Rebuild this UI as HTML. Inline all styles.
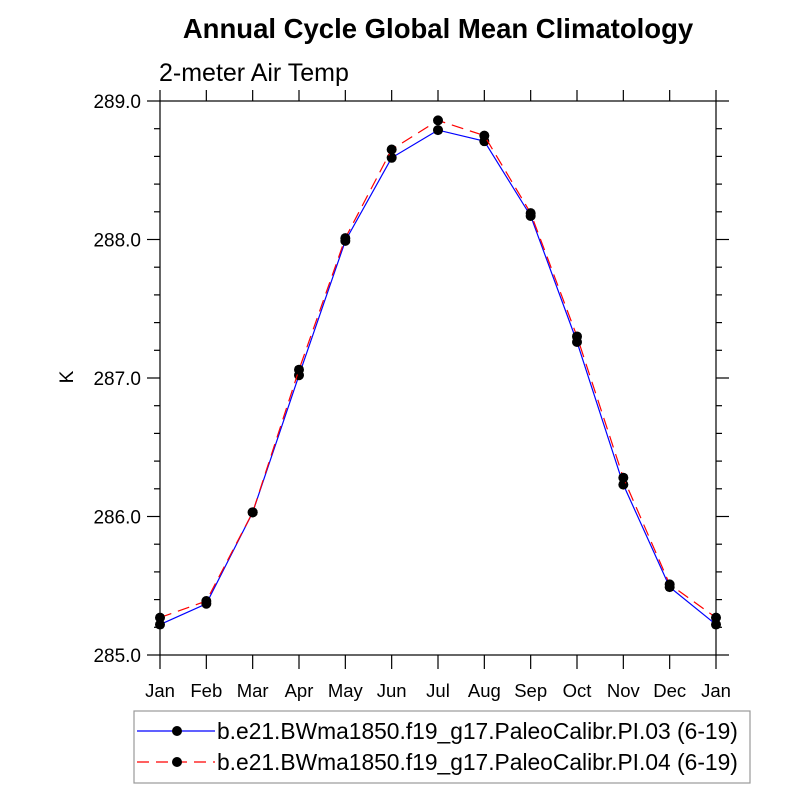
<!DOCTYPE html>
<html><head><meta charset="utf-8"><style>
body{margin:0;background:#fff;}
svg text{font-family:"Liberation Sans",sans-serif;fill:#000;}
</style></head><body>
<svg id="chart" width="800" height="800" viewBox="0 0 800 800">
<text x="438" y="38" text-anchor="middle" font-size="27.5" font-weight="bold">Annual Cycle Global Mean Climatology</text>
<text x="159" y="81" font-size="25">2-meter Air Temp</text>
<text transform="translate(73,377) rotate(-90)" text-anchor="middle" font-size="19">K</text>
<rect x="160" y="101" width="556" height="554" fill="none" stroke="#000" stroke-width="1.2"/>
<g id="axes"></g>
<g id="series"></g>
<rect x="134" y="711" width="616" height="72" fill="none" stroke="#999" stroke-width="1.2"/>
<g>
<line x1="137" y1="731" x2="215" y2="731" stroke="#00f" stroke-width="1.2"/>
<circle cx="177" cy="731" r="5" fill="#000"/>
<text x="217" y="739" font-size="22.8">b.e21.BWma1850.f19_g17.PaleoCalibr.PI.03 (6-19)</text>
</g>
<g>
<line x1="137" y1="762" x2="215" y2="762" stroke="#f00" stroke-width="1.2" stroke-dasharray="12,7"/>
<circle cx="177" cy="762" r="5" fill="#000"/>
<text x="217" y="770" font-size="22.8">b.e21.BWma1850.f19_g17.PaleoCalibr.PI.04 (6-19)</text>
</g>
</svg>
<script>
const months = ["Jan","Feb","Mar","Apr","May","Jun","Jul","Aug","Sep","Oct","Nov","Dec","Jan"];
const seriesPI03 = [285.22,285.37,286.03,287.02,287.99,288.59,288.79,288.71,288.17,287.26,286.23,285.49,285.22];
const seriesPI04 = [285.27,285.39,286.03,287.06,288.01,288.65,288.86,288.75,288.19,287.30,286.28,285.51,285.27];
const yTicks = [285,286,287,288,289];
const yTickLabels = ["285.0","286.0","287.0","288.0","289.0"];
const X0=160,X1=716,Y0=655,Y1=101,YMIN=285,YMAX=289;
const xs=i=>X0+(X1-X0)*i/(months.length-1);
const ys=v=>Y0-(v-YMIN)/(YMAX-YMIN)*(Y0-Y1);
const NS="http://www.w3.org/2000/svg";
const ax=document.getElementById('axes'), sg=document.getElementById('series');
function mk(t,a,p){const e=document.createElementNS(NS,t);for(const k in a)e.setAttribute(k,a[k]);p.appendChild(e);return e;}
months.forEach((m,i)=>{
  const x=xs(i);
  const t1=mk('line',{x1:x,y1:Y0,x2:x,y2:Y0+14,stroke:'#000','stroke-width':1.2},ax);
  
  
  const t2=mk('line',{x1:x,y1:Y1,x2:x,y2:Y1-11,stroke:'#000','stroke-width':1.2},ax);
  
  
  const tx=mk('text',{x:x,y:697,'text-anchor':'middle','font-size':18.5},ax);
  tx.textContent=m;
  
  
});
for(let v=YMIN;v<=YMAX+1e-9;v+=0.2){
  const y=ys(v);const major=Math.abs(v-Math.round(v))<1e-6;const L=major?13:6;
  const a=mk('line',{x1:X0-L,y1:y,x2:X0,y2:y,stroke:'#000','stroke-width':1.2},ax);
  
  
  const b=mk('line',{x1:X1,y1:y,x2:X1+L,y2:y,stroke:'#000','stroke-width':1.2},ax);
  
  
}
yTicks.forEach((v,i)=>{
  const t=mk('text',{x:141,y:ys(v)+7,'text-anchor':'end','font-size':19},ax);
  t.textContent=yTickLabels[i];
  
  
});
function draw(data,color,dash,name){
  const p=mk('polyline',{points:data.map((v,i)=>xs(i)+','+ys(v)).join(' '),fill:'none',stroke:color,'stroke-width':1.2,'stroke-dasharray':dash},sg);
  
  
  data.forEach((v,i)=>{
    const c=mk('circle',{cx:xs(i),cy:ys(v),r:5,fill:'#000'},sg);
    
    
  });
}
draw(seriesPI03,'#00f','none','series-pi03');
draw(seriesPI04,'#f00','12,7','series-pi04');
</script>
</body></html>
